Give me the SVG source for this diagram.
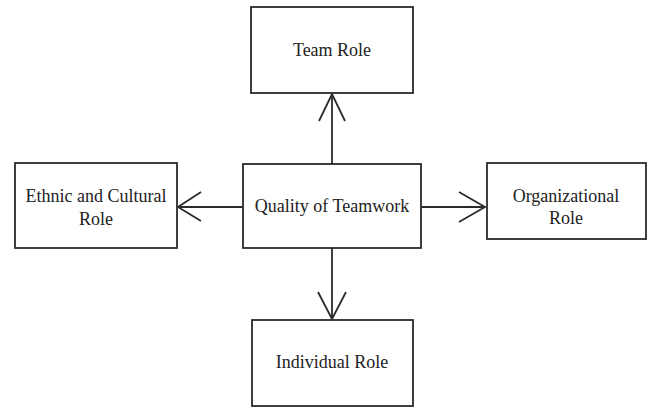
<svg xmlns="http://www.w3.org/2000/svg" width="647" height="407" viewBox="0 0 647 407">
  <style>
    .box { fill: #ffffff; stroke: #2b2b2b; stroke-width: 1.8; }
    .edge { fill: none; stroke: #2b2b2b; stroke-width: 1.8; }
  </style>
  <rect width="647" height="407" fill="#ffffff"/>

  <g id="team-role">
    <rect class="box" x="251" y="7" width="162" height="86"/>
    <text x="332" y="56" text-anchor="middle" fill="#222222" style="font-family:'Liberation Serif', serif; font-size:18px">Team Role</text>
  </g>

  <g id="quality-of-teamwork">
    <rect class="box" x="243" y="164" width="178" height="84"/>
    <text x="332" y="212" text-anchor="middle" fill="#222222" style="font-family:'Liberation Serif', serif; font-size:18px">Quality of Teamwork</text>
  </g>

  <g id="ethnic-cultural-role">
    <rect class="box" x="15" y="163" width="162" height="85"/>
    <text x="96" y="202" text-anchor="middle" fill="#222222" style="font-family:'Liberation Serif', serif; font-size:18px">Ethnic and Cultural</text>
    <text x="96" y="225" text-anchor="middle" fill="#222222" style="font-family:'Liberation Serif', serif; font-size:18px">Role</text>
  </g>

  <g id="organizational-role">
    <rect class="box" x="487" y="163" width="159" height="76"/>
    <text x="566" y="202" text-anchor="middle" fill="#222222" style="font-family:'Liberation Serif', serif; font-size:18px">Organizational</text>
    <text x="566" y="224" text-anchor="middle" fill="#222222" style="font-family:'Liberation Serif', serif; font-size:18px">Role</text>
  </g>

  <g id="individual-role">
    <rect class="box" x="252" y="320" width="161" height="86"/>
    <text x="332" y="368" text-anchor="middle" fill="#222222" style="font-family:'Liberation Serif', serif; font-size:18px">Individual Role</text>
  </g>

  <g id="connectors">
    <!-- up to Team Role -->
    <path class="edge" d="M332 164 V94"/>
    <path class="edge" d="M319 121 L332 94 L345 121"/>
    <!-- left to Ethnic and Cultural Role -->
    <path class="edge" d="M243 207 H178"/>
    <path class="edge" d="M201 192 L178 207 L201 221"/>
    <!-- right to Organizational Role -->
    <path class="edge" d="M421 207 H485"/>
    <path class="edge" d="M459 192 L485 207 L459 222"/>
    <!-- down to Individual Role -->
    <path class="edge" d="M332 248 V319"/>
    <path class="edge" d="M318 292 L332 319 L346 292"/>
  </g>
</svg>
